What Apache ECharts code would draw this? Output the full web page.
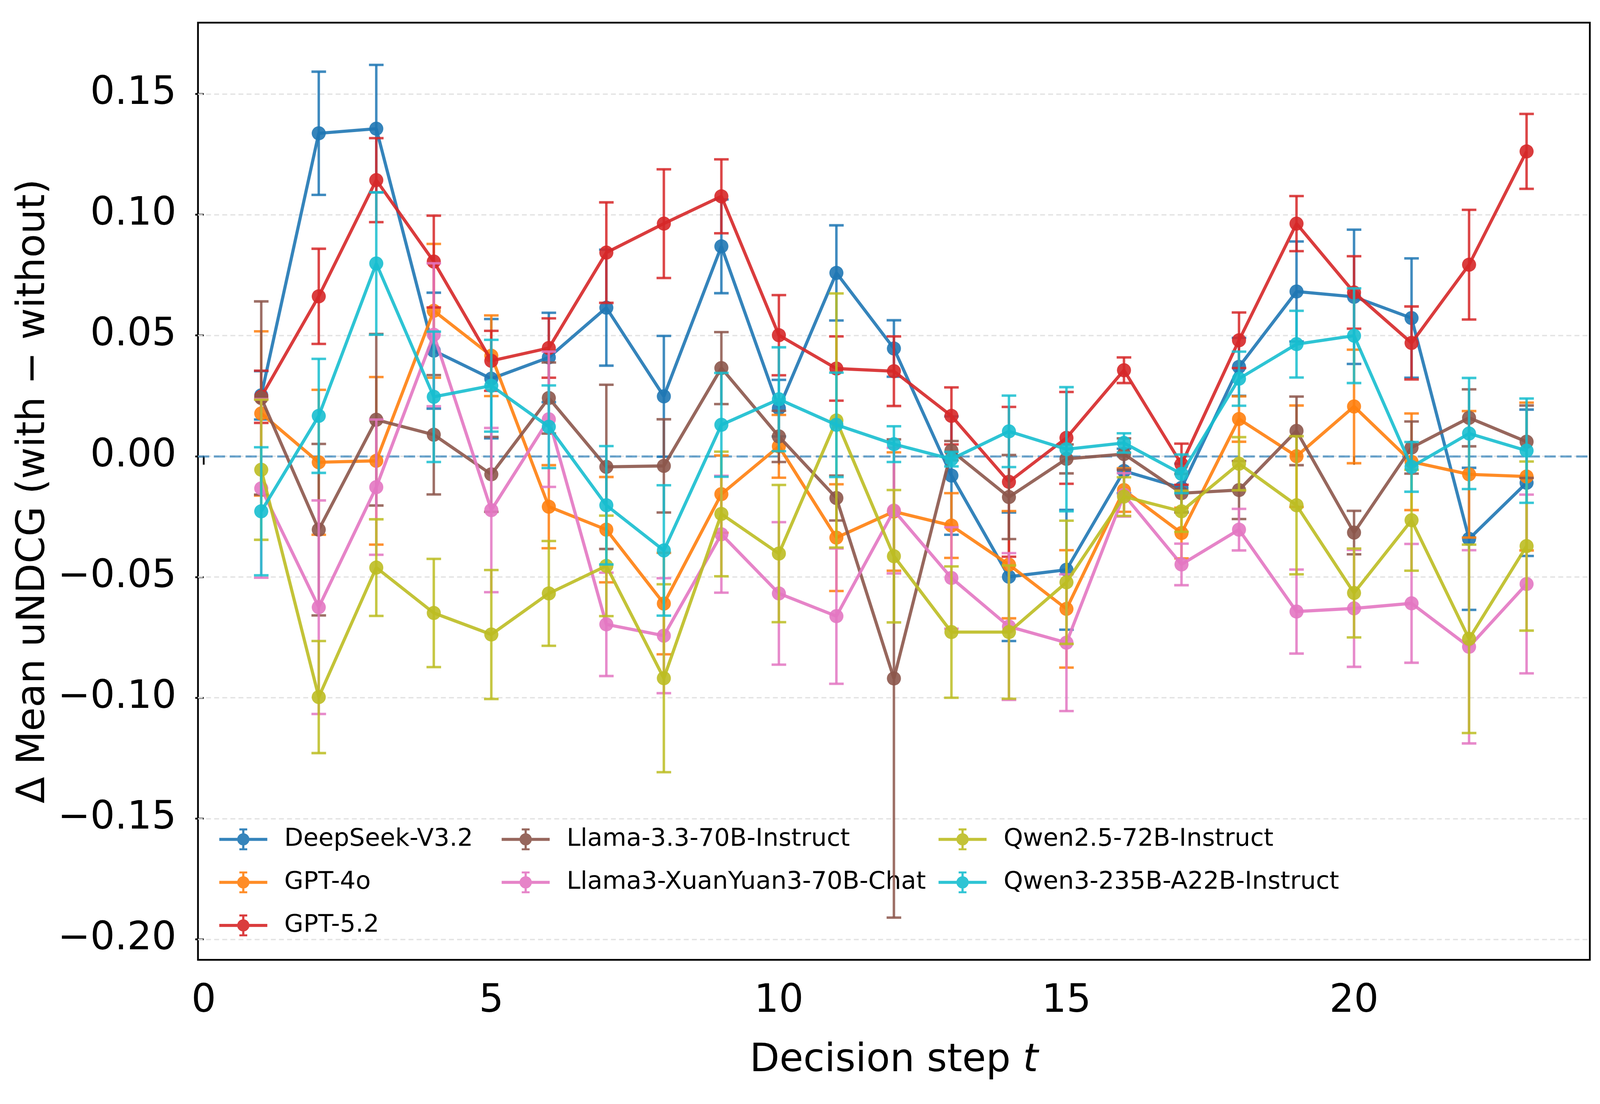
<!DOCTYPE html>
<html><head><meta charset="utf-8">
<script src="https://cdn.jsdelivr.net/npm/echarts@6/dist/echarts.min.js"></script>
<style>html,body{margin:0;padding:0;background:#fff;overflow:hidden}#c{width:100vw;height:100vh}</style>
</head><body><div id="c"></div>
<script>
const steps = [1,2,3,4,5,6,7,8,9,10,11,12,13,14,15,16,17,18,19,20,21,22,23];
const models = ["DeepSeek-V3.2","GPT-4o","GPT-5.2","Llama-3.3-70B-Instruct","Llama3-XuanYuan3-70B-Chat","Qwen2.5-72B-Instruct","Qwen3-235B-A22B-Instruct"];
const colors = ["#1f77b4","#ff7f0e","#d62728","#8c564b","#e377c2","#bcbd22","#17becf"];

const deepseekMean = [0.0252,0.1337,0.1356,0.0437,0.0321,0.0409,0.0615,0.0248,0.0869,0.0199,0.0759,0.0446,-0.0080,-0.0499,-0.0470,-0.0061,-0.0131,0.0370,0.0682,0.0660,0.0572,-0.0342,-0.0110];
const deepseekErr  = [0.0100,0.0255,0.0264,0.0240,0.0247,0.0185,0.0240,0.0250,0.0194,0.0117,0.0197,0.0117,0.0245,0.0266,0.0248,0.0092,0.0100,0.0120,0.0207,0.0278,0.0247,0.0294,0.0303];
const gpt4oMean = [0.0177,-0.0025,-0.0019,0.0602,0.0416,-0.0209,-0.0304,-0.0610,-0.0157,0.0041,-0.0337,-0.0229,-0.0287,-0.0449,-0.0632,-0.0140,-0.0318,0.0154,0.0000,0.0206,-0.0023,-0.0075,-0.0084];
const gpt4oErr  = [0.0340,0.0300,0.0347,0.0277,0.0167,0.0172,0.0218,0.0210,0.0160,0.0130,0.0221,0.0245,0.0134,0.0222,0.0243,0.0090,0.0105,0.0094,0.0210,0.0235,0.0200,0.0262,0.0306];
const gpt52Mean = [0.0246,0.0662,0.1143,0.0806,0.0395,0.0448,0.0843,0.0963,0.1076,0.0501,0.0363,0.0352,0.0167,-0.0106,0.0076,0.0356,-0.0033,0.0480,0.0963,0.0678,0.0469,0.0793,0.1262];
const gpt52Err  = [0.0108,0.0197,0.0174,0.0190,0.0124,0.0123,0.0208,0.0225,0.0153,0.0166,0.0133,0.0144,0.0118,0.0310,0.0190,0.0053,0.0085,0.0115,0.0114,0.0150,0.0151,0.0227,0.0155];
const llama33Mean = [0.0241,-0.0304,0.0151,0.0089,-0.0075,0.0241,-0.0044,-0.0040,0.0365,0.0082,-0.0173,-0.0920,0.0023,-0.0169,-0.0011,0.0009,-0.0153,-0.0140,0.0105,-0.0316,0.0036,0.0159,0.0060];
const llama33Err  = [0.0400,0.0355,0.0355,0.0247,0.0155,0.0147,0.0340,0.0193,0.0149,0.0106,0.0093,0.0990,0.0040,0.0174,0.0060,0.0065,0.0080,0.0120,0.0142,0.0090,0.0108,0.0118,0.0150];
const xuanyuanMean = [-0.0133,-0.0625,-0.0128,0.0503,-0.0223,0.0153,-0.0696,-0.0743,-0.0323,-0.0568,-0.0662,-0.0225,-0.0504,-0.0705,-0.0772,-0.0160,-0.0448,-0.0304,-0.0643,-0.0630,-0.0609,-0.0789,-0.0529];
const xuanyuanErr  = [0.0370,0.0442,0.0280,0.0296,0.0340,0.0280,0.0214,0.0238,0.0242,0.0295,0.0280,0.0260,0.0210,0.0304,0.0283,0.0090,0.0086,0.0086,0.0174,0.0242,0.0246,0.0400,0.0370];
const qwen25Mean = [-0.0056,-0.0997,-0.0461,-0.0649,-0.0738,-0.0568,-0.0454,-0.0919,-0.0239,-0.0403,0.0148,-0.0414,-0.0728,-0.0728,-0.0522,-0.0167,-0.0228,-0.0031,-0.0203,-0.0566,-0.0265,-0.0756,-0.0372];
const qwen25Err  = [0.0290,0.0232,0.0200,0.0224,0.0267,0.0217,0.0208,0.0389,0.0258,0.0284,0.0526,0.0274,0.0272,0.0276,0.0255,0.0080,0.0085,0.0110,0.0286,0.0184,0.0209,0.0390,0.0350];
const qwen3Mean = [-0.0228,0.0167,0.0798,0.0246,0.0292,0.0122,-0.0203,-0.0390,0.0130,0.0236,0.0130,0.0050,-0.0012,0.0103,0.0029,0.0055,-0.0073,0.0321,0.0464,0.0499,-0.0044,0.0094,0.0023];
const qwen3Err  = [0.0265,0.0236,0.0295,0.0270,0.0190,0.0171,0.0245,0.0270,0.0215,0.0215,0.0216,0.0074,0.0030,0.0148,0.0257,0.0040,0.0080,0.0112,0.0138,0.0196,0.0103,0.0230,0.0216];

const means = [deepseekMean,gpt4oMean,gpt52Mean,llama33Mean,xuanyuanMean,qwen25Mean,qwen3Mean];
const errs  = [deepseekErr,gpt4oErr,gpt52Err,llama33Err,xuanyuanErr,qwen25Err,qwen3Err];

const yTicks = [-0.2,-0.15,-0.1,-0.05,0,0.05,0.1,0.15];
const xTicks = [0,5,10,15,20];

const FONT = "DejaVu Sans";
const el = document.getElementById('c');
const W = el.clientWidth || window.innerWidth;
const H = el.clientHeight || window.innerHeight;
const SX = W / 5043, SY = H / 2826;
const SF = Math.sqrt(SX * SY);
const X = v => v * SX, Y = v => v * SY, F = v => v * SF;
const chart = echarts.init(el, null, {renderer:'canvas'});

const legendIcon = 'path://M0,43 L220,43 L220,57 L0,57 Z M105,5 L115,5 L115,95 L105,95 Z M92,0 L128,0 L128,9 L92,9 Z M92,91 L128,91 L128,100 L92,100 Z M138,50 A28,28 0 1,1 82,50 A28,28 0 1,1 138,50 Z';

function makeErr(i){
  const color = colors[i];
  return {
    type:'custom', name: models[i]+' err', z: 10+2*i,
    data: steps.map((s,k)=>[s, means[i][k]-errs[i][k], means[i][k]+errs[i][k]]),
    encode:{x:0, y:[1,2]},
    renderItem:function(params, api){
      const x = api.value(0);
      const pLo = api.coord([x, api.value(1)]);
      const pHi = api.coord([x, api.value(2)]);
      const cap = X(23);
      const st = {stroke: color, lineWidth: F(7), opacity: 0.85};
      return {type:'group', children:[
        {type:'line', shape:{x1:pLo[0],y1:pLo[1],x2:pHi[0],y2:pHi[1]}, style:st},
        {type:'line', shape:{x1:pLo[0]-cap,y1:pLo[1],x2:pLo[0]+cap,y2:pLo[1]}, style:st},
        {type:'line', shape:{x1:pHi[0]-cap,y1:pHi[1],x2:pHi[0]+cap,y2:pHi[1]}, style:st}
      ]};
    },
    silent:true
  };
}
function makeLine(i){
  return {
    type:'line', name: models[i], z: 11+2*i,
    data: steps.map((s,k)=>[s, means[i][k]]),
    symbol:'circle', symbolSize:F(40), showSymbol:true,
    lineStyle:{color:colors[i], width:F(9), opacity:0.9},
    itemStyle:{color:colors[i], opacity:0.9, borderWidth:0},
    emphasis:{disabled:true}, silent:true
  };
}

const series = [];
series.push({
  type:'line', name:'grid', data:[], z:1, silent:true,
  markLine:{silent:true, symbol:['none','none'], label:{show:false}, animation:false,
    lineStyle:{color:'#e3e3e3', width:F(4), type:[F(14),F(9)]},
    data: yTicks.map(v=>({yAxis:v}))}
});
series.push({
  type:'line', name:'zero', data:[], z:2, silent:true,
  markLine:{silent:true, symbol:['none','none'], label:{show:false}, animation:false,
    lineStyle:{color:'rgba(31,119,180,0.65)', width:F(6), type:[F(32),F(13)]},
    data:[{yAxis:0}]}
});
for(let i=0;i<models.length;i++){ series.push(makeErr(i)); series.push(makeLine(i)); }

const legIH = F(62), legIW = legIH * 2.2;
function legendCol(names, left){
  return {
    orient:'vertical', left:X(left), top:Y(2140) - legIH/2, itemWidth:legIW, itemHeight:legIH, itemGap:Y(103) - legIH,
    icon: legendIcon, data: names, selectedMode:false,
    itemStyle:{borderWidth:0},
    textStyle:{fontFamily:FONT, fontSize:F(70), color:'#000', padding:[0,0,0,X(205) - legIW - 5]}
  };
}

const tickFS = F(110);
const option = {
  animation:false,
  backgroundColor:'#fff',
  grid:{left:X(624), right:X(32), top:Y(58), bottom:Y(369), show:true, borderColor:'#000', borderWidth:F(5), backgroundColor:'transparent'},
  xAxis:{
    type:'value', min:-0.1, max:24.1,
    name:'Decision step {i|t}', nameLocation:'middle', nameGap:Y(259) - tickFS/2,
    nameTextStyle:{fontFamily:FONT, fontSize:tickFS, color:'#000', rich:{i:{fontFamily:FONT, fontStyle:'italic', fontSize:tickFS, color:'#000'}}},
    axisLine:{show:false},
    axisTick:{show:true, inside:false, length:F(24), lineStyle:{color:'#000', width:F(5)}, customValues:xTicks},
    axisLabel:{fontFamily:FONT, fontSize:tickFS, color:'#000', margin:Y(107) - tickFS/2, customValues:xTicks, formatter:v=>String(Math.round(v))},
    splitLine:{show:false}
  },
  yAxis:{
    type:'value', min:-0.2085, max:0.1795,
    name:'\u0394 Mean uNDCG (with \u2212 without)', nameLocation:'middle', nameGap:X(504) - tickFS/2, nameRotate:90,
    nameTextStyle:{fontFamily:FONT, fontSize:tickFS, color:'#000'},
    axisLine:{show:false},
    axisTick:{show:true, inside:false, length:F(24), lineStyle:{color:'#000', width:F(5)}, customValues:yTicks},
    axisLabel:{fontFamily:FONT, fontSize:tickFS, color:'#000', margin:X(68), customValues:yTicks,
      formatter:v=>{const r=Math.round(v*100)/100; return (r<0?'\u2212':'')+Math.abs(r).toFixed(2);}},
    splitLine:{show:false}
  },
  legend:[
    legendCol([models[0],models[1],models[2]], 685),
    legendCol([models[3],models[4]], 1575),
    legendCol([models[5],models[6]], 2952)
  ],
  series: series
};
chart.setOption(option);
</script></body></html>
